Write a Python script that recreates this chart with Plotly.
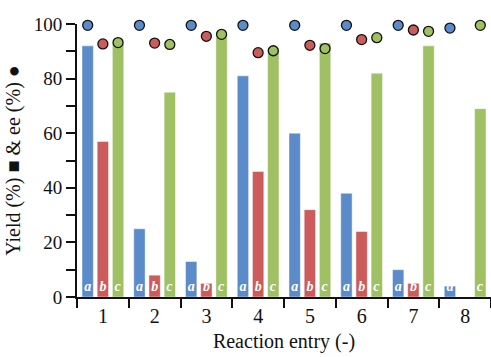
import plotly.graph_objects as go

entries = ["1", "2", "3", "4", "5", "6", "7", "8"]
yield_a = [92, 25, 13, 81, 60, 38, 10, 4]
yield_b = [57, 8, 5, 46, 32, 24, 5, None]
yield_c = [93, 75, 96, 91, 93, 82, 92, 69]
ee_a = [99.5, 99.5, 99.5, 99.5, 99.5, 99.5, 99.5, 98.5]
ee_b = [92.7, 93, 95.5, 89.5, 92.2, 94.3, 97.8, None]
ee_c = [93.2, 92.5, 96.2, 90.2, 91, 95, 97.3, 99.5]
labels_a = ["a"] * 8
labels_b = ["b"] * 7 + [""]
labels_c = ["c"] * 8
y_tickvals = [0, 10, 20, 30, 40, 50, 60, 70, 80, 90, 100]
y_ticktext = ["0", "", "20", "", "40", "", "60", "", "80", "", "100"]

colors = ["#5b8bc9", "#cc5c5b", "#9fc063"]
serif = "Liberation Serif, Times New Roman, serif"

fig = go.Figure()
for k, (yv, lab) in enumerate([(yield_a, labels_a), (yield_b, labels_b), (yield_c, labels_c)]):
    fig.add_trace(go.Bar(
        x=entries, y=yv, text=lab, textposition="inside", insidetextanchor="start",
        constraintext="none", textangle=0,
        textfont=dict(family=serif, size=14, color="white", style="italic", weight="bold"),
        marker=dict(color=colors[k], line=dict(color="rgba(255,255,255,0.6)", width=0.8)),
        offsetgroup=str(k), showlegend=False,
    ))
for k, ev in enumerate([ee_a, ee_b, ee_c]):
    fig.add_trace(go.Scatter(
        x=entries, y=ev, mode="markers", offsetgroup=str(k), cliponaxis=False,
        marker=dict(color=colors[k], size=10, line=dict(color="#111", width=1.3)),
        showlegend=False,
    ))

fig.update_layout(
    width=491, height=357,
    margin=dict(l=77, r=0, t=24, b=60),
    paper_bgcolor="white", plot_bgcolor="white",
    barmode="group", bargap=0.12, bargroupgap=0.25,
    scattermode="group",
    font=dict(family=serif, color="#111"),
    xaxis=dict(
        type="category", range=[-0.5, 7.5], tickson="boundaries",
        ticks="outside", ticklen=9, tickwidth=2, tickcolor="#111",
        showline=True, linecolor="#111", linewidth=2, showgrid=False,
        tickfont=dict(size=20, family=serif, color="#111"),
        title=dict(text="Reaction entry (-)", font=dict(size=20, family=serif, color="#111"), standoff=8),
    ),
    yaxis=dict(
        range=[0, 100], tickvals=y_tickvals, ticktext=y_ticktext,
        ticks="outside", ticklen=9, tickwidth=2, tickcolor="#111",
        showline=True, linecolor="#111", linewidth=2, showgrid=False, zeroline=False,
        tickfont=dict(size=19, family=serif, color="#111"),
        title=dict(text="Yield (%) ■ & ee (%) ●", font=dict(size=20, family=serif, color="#111"), standoff=8),
    ),
)

fig.write_html("out.html")
